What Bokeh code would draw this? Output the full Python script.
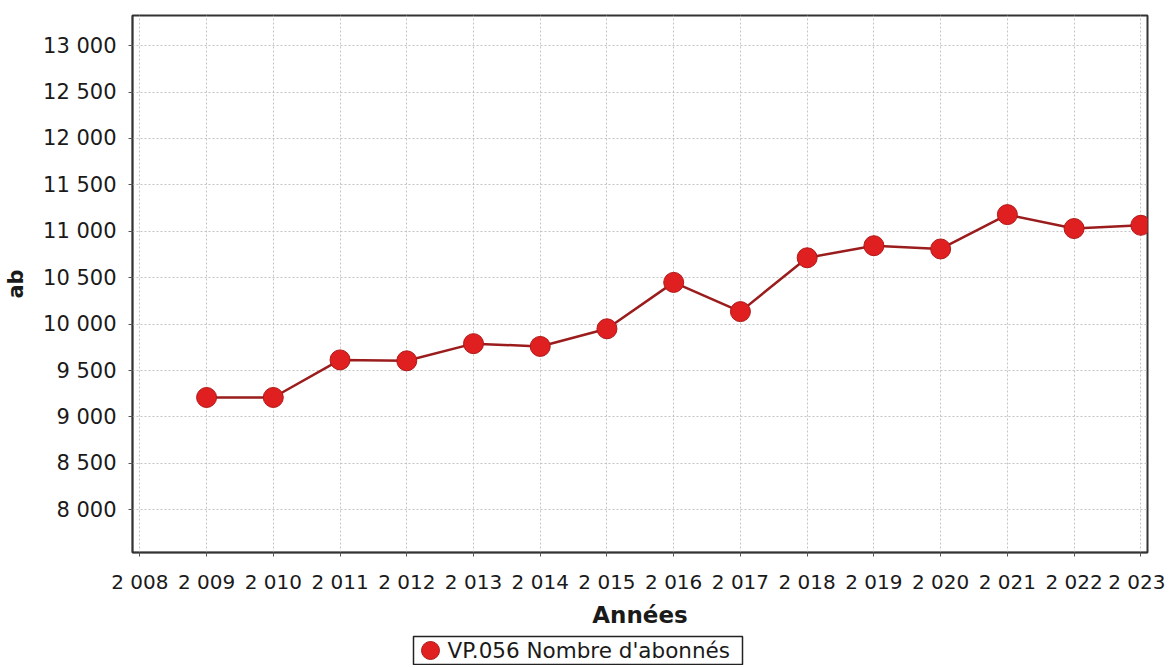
from bokeh.plotting import figure
from bokeh.models import FixedTicker, CustomJSTickFormatter, Range1d
from bokeh.core.properties import value
from bokeh.layouts import column
from bokeh.embed import file_html
from bokeh.resources import INLINE

years = [2009, 2010, 2011, 2012, 2013, 2014, 2015, 2016, 2017, 2018, 2019, 2020, 2021, 2022, 2023]
abonnes = [9210, 9210, 9615, 9605, 9790, 9760, 9950, 10450, 10135, 10715, 10845, 10810, 11180, 11030, 11065]
x_ticks = list(range(2008, 2024))
y_ticks = [8000, 8500, 9000, 9500, 10000, 10500, 11000, 11500, 12000, 12500, 13000]
series_label = "VP.056 Nombre d'abonnés"
x_title = "Années"
y_title = "ab"

FONT = "DejaVu Sans"
FILL = "#e02020"
EDGE = "#b01818"

W = 1165
FRAME_L, FRAME_R = 132, 1147

p = figure(width=W, height=630, output_backend="svg", toolbar_location=None,
           x_range=Range1d(2007.89, 2023.1), y_range=Range1d(7540, 13325),
           min_border_left=FRAME_L, min_border_right=W - FRAME_R,
           min_border_top=15, min_border_bottom=77)

p.background_fill_color = "white"
p.border_fill_color = "white"
p.outline_line_color = "#333333"
p.outline_line_width = 2

fmt = CustomJSTickFormatter(code="return tick.toFixed(0).replace(/\\B(?=(\\d{3})+(?!\\d))/g, ' ');")

p.xaxis.ticker = FixedTicker(ticks=x_ticks)
p.yaxis.ticker = FixedTicker(ticks=y_ticks)
p.xaxis.formatter = fmt
p.yaxis.formatter = fmt

for ax in (p.xaxis[0], p.yaxis[0]):
    ax.major_label_text_font = FONT
    ax.major_label_text_color = "#1a1a1a"
    ax.axis_label_text_font = FONT
    ax.axis_label_text_font_style = "bold"
    ax.axis_label_text_color = "#1a1a1a"
    ax.axis_line_color = "#333333"
    ax.axis_line_width = 1.5
    ax.major_tick_line_color = "#555555"
    ax.major_tick_in = 0
    ax.major_tick_out = 4
    ax.minor_tick_line_color = None

p.xaxis.major_label_text_font_size = "20px"
p.yaxis.major_label_text_font_size = "21px"
p.xaxis.axis_label = x_title
p.xaxis.axis_label_text_font_size = "23px"
p.xaxis.major_label_standoff = 13
p.xaxis.axis_label_standoff = 5
p.yaxis.axis_label = y_title
p.yaxis.axis_label_text_font_size = "21px"
p.yaxis.major_label_standoff = 12
p.yaxis.axis_label_standoff = 12

p.xgrid.grid_line_color = "#c4c4c4"
p.xgrid.grid_line_dash = "2 2"
p.xgrid.grid_line_width = 1
p.ygrid.grid_line_color = "#c4c4c4"
p.ygrid.grid_line_dash = "2 2"
p.ygrid.grid_line_width = 1

p.line(years, abonnes, line_color="#9b1c1c", line_width=2.5)
p.scatter(years, abonnes, size=20, fill_color=FILL, line_color=EDGE, line_width=1)

# legend strip below the chart; its frame is aligned with the main frame,
# so its x range is expressed in page pixels of that frame
lf = figure(width=W, height=35, output_backend="svg", toolbar_location=None,
            x_axis_type=None, y_axis_type=None,
            x_range=Range1d(FRAME_L, FRAME_R), y_range=Range1d(0, 35),
            min_border_left=0, min_border_right=0, min_border_top=0, min_border_bottom=0)
lf.outline_line_color = None
lf.background_fill_color = "white"
lf.border_fill_color = "white"
lf.grid.visible = False
lf.quad(left=[413], right=[742], bottom=[1], top=[29],
        fill_color="white", line_color="#222222", line_width=1.5)
lf.scatter(x=[430], y=[15], size=18, fill_color=FILL, line_color=EDGE, line_width=1)
lf.text(x=[447], y=[15], text=[series_label], text_baseline="middle", text_align="left",
        text_font=value(FONT), text_font_size="21.5px", text_color="#1a1a1a")

layout = column(p, lf, spacing=0)
open("out.html", "w").write(file_html(layout, INLINE))
